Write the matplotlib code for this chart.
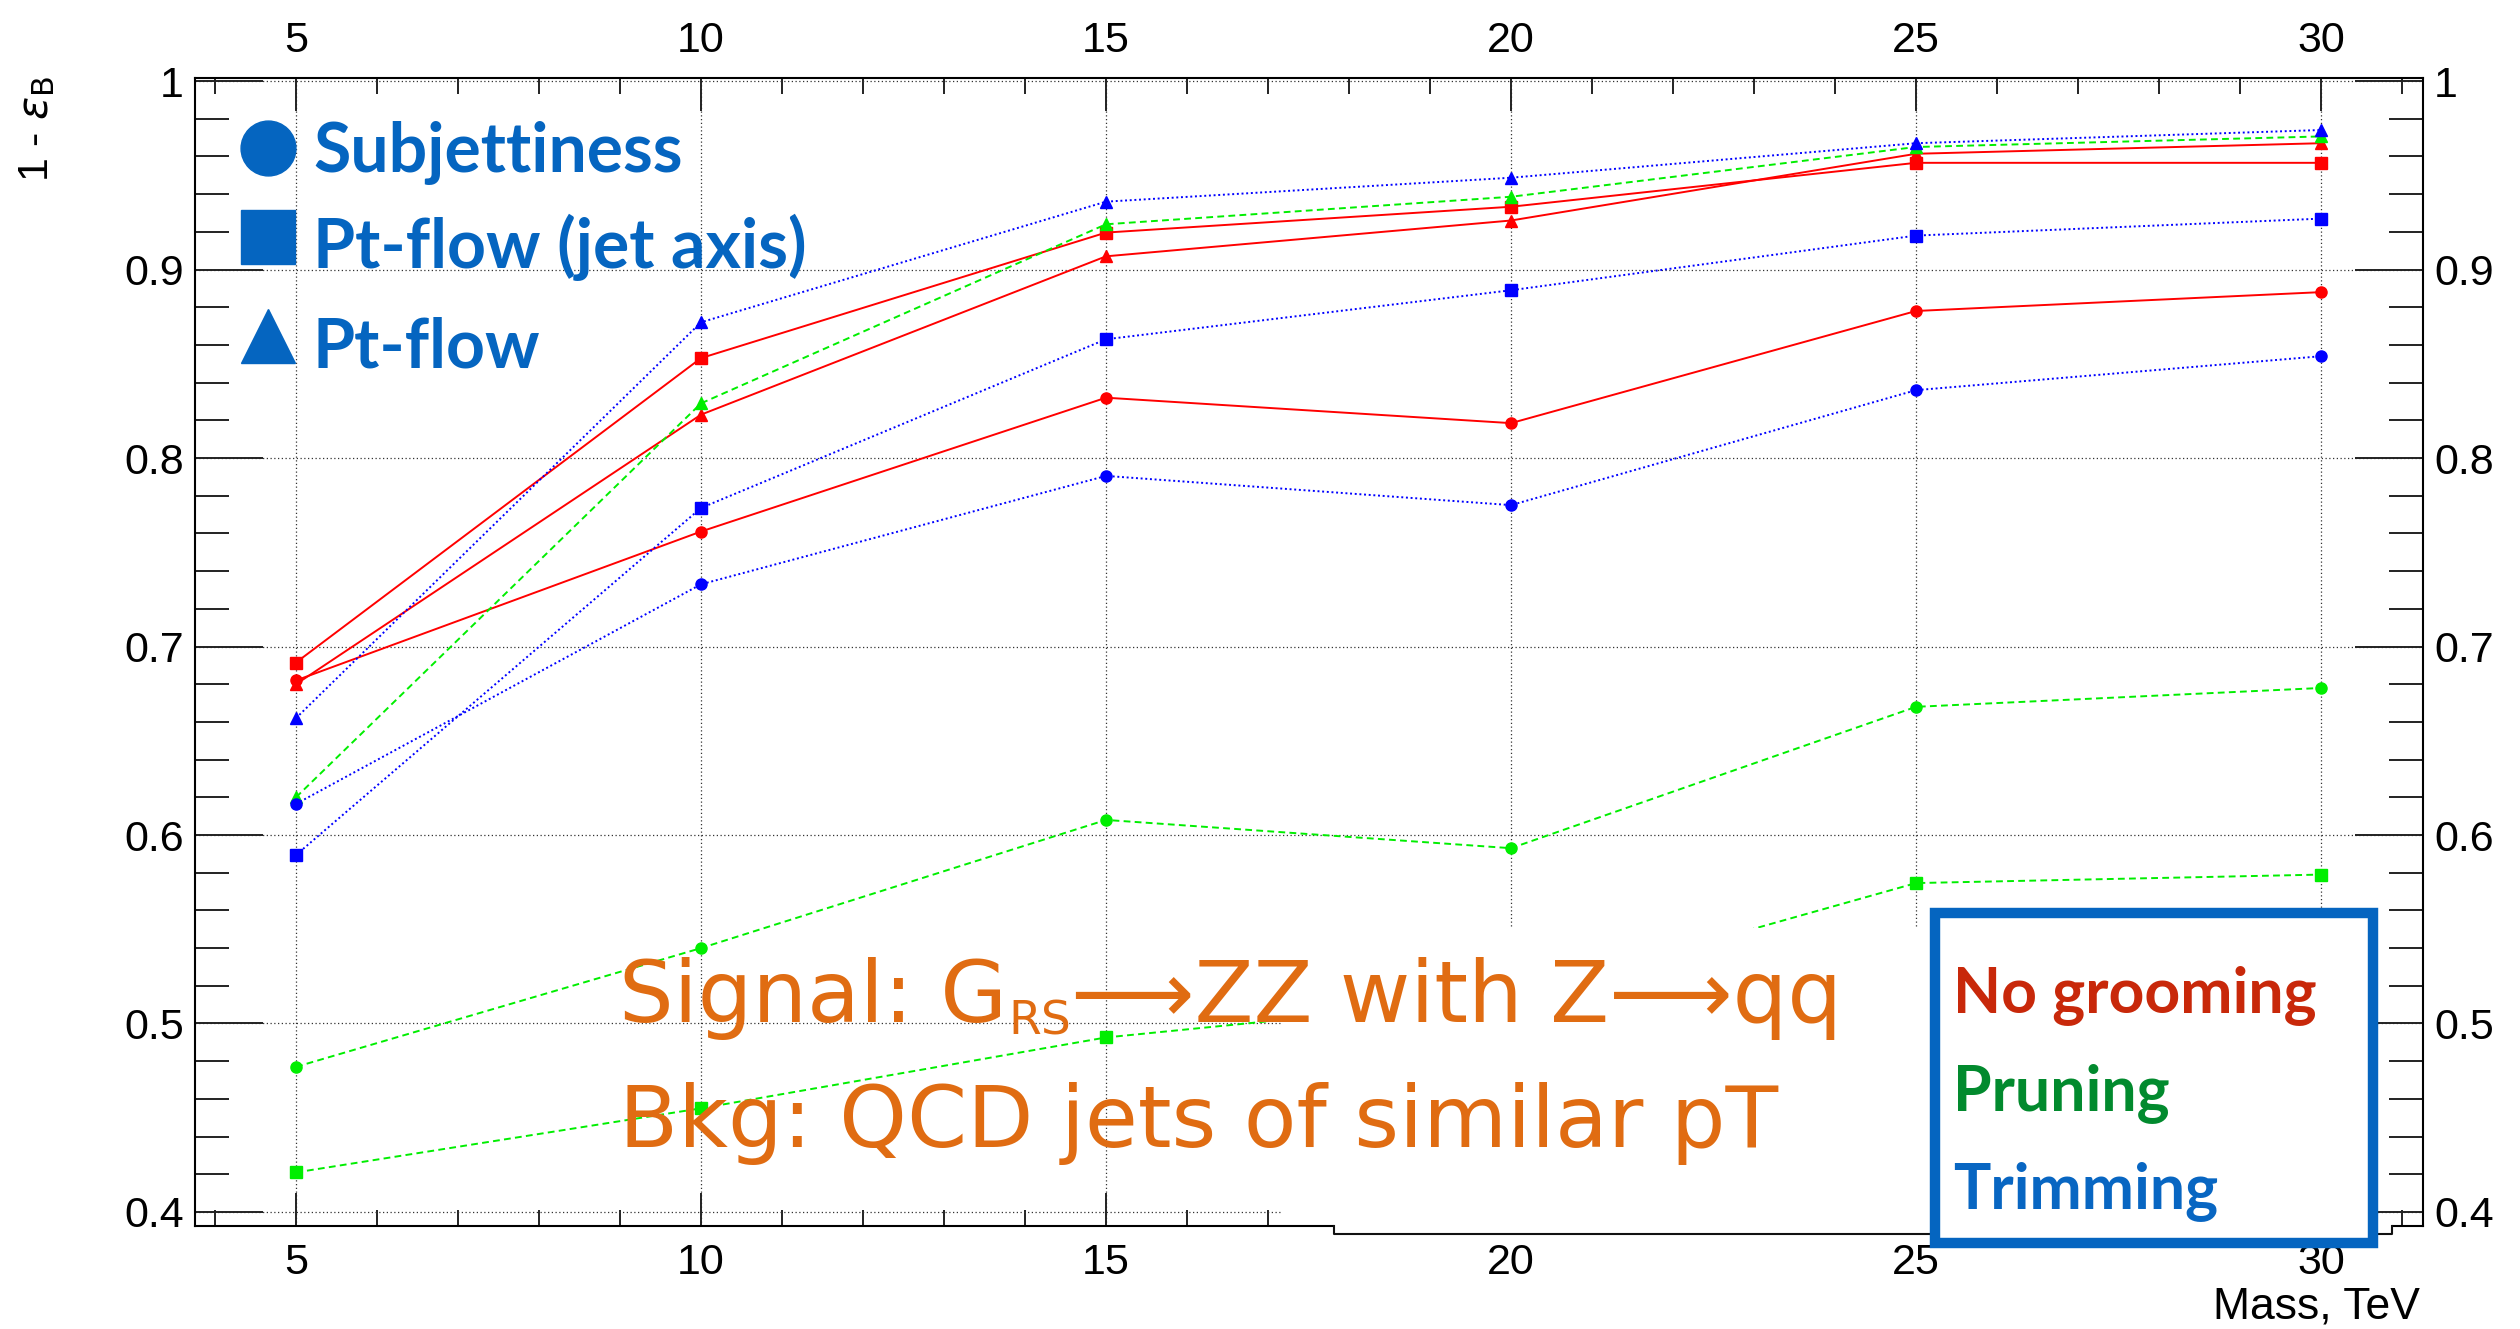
import matplotlib
matplotlib.use('Agg')
import matplotlib.pyplot as plt
from matplotlib.ticker import MultipleLocator, FuncFormatter
from matplotlib.patches import Rectangle
from matplotlib.lines import Line2D

W, H, DPI = 2520, 1329, 100

# Mass points (TeV)
mass = [5, 10, 15, 20, 25, 30]

# 1 - eps_B, no grooming
red_subjettiness = [0.682, 0.761, 0.832, 0.8185, 0.878, 0.888]
red_ptflow_jet = [0.6915, 0.853, 0.9196, 0.9333, 0.9566, 0.9566]
red_ptflow = [0.680, 0.823, 0.907, 0.926, 0.9614, 0.967]

# pruning
green_subjettiness = [0.477, 0.540, 0.608, 0.593, 0.668, 0.678]
green_ptflow_jet = [0.421, 0.455, 0.4926, 0.514, 0.5745, 0.579]
green_ptflow = [0.620, 0.829, 0.924, 0.9386, 0.965, 0.9706]

# trimming
blue_subjettiness = [0.6165, 0.733, 0.7905, 0.775, 0.836, 0.854]
blue_ptflow_jet = [0.5894, 0.7735, 0.863, 0.889, 0.918, 0.927]
blue_ptflow = [0.662, 0.872, 0.936, 0.9487, 0.967, 0.974]

methods = ['Subjettiness', 'Pt-flow (jet axis)', 'Pt-flow']
groomings = ['No grooming', 'Pruning', 'Trimming']

plt.rcParams['font.family'] = ['Liberation Sans', 'DejaVu Sans']
key_font = ['Lato', 'DejaVu Sans']


def fpos(x, y):
    # pixel position (from top-left) -> figure fraction
    return x / W, 1 - y / H


fig = plt.figure(figsize=(W / DPI, H / DPI), dpi=DPI)
ax = fig.add_axes([195 / W, 1 - 1226 / H, (2423 - 195) / W, (1226 - 78) / H])
ax.set_axisbelow(True)

red_ls = '-'
green_ls = (0, (3.5, 2.2))
blue_ls = (0, (1, 1.4))

series = [
    (red_subjettiness, '#ff0000', red_ls, 'o'),
    (red_ptflow_jet, '#ff0000', red_ls, 's'),
    (red_ptflow, '#ff0000', red_ls, '^'),
    (green_subjettiness, '#00ee00', green_ls, 'o'),
    (green_ptflow_jet, '#00ee00', green_ls, 's'),
    (green_ptflow, '#00ee00', green_ls, '^'),
    (blue_subjettiness, '#0000ff', blue_ls, 'o'),
    (blue_ptflow_jet, '#0000ff', blue_ls, 's'),
    (blue_ptflow, '#0000ff', blue_ls, '^'),
]
for vals, col, ls, mk in series:
    ax.plot(mass, vals, color=col, ls=ls, lw=1.4, marker=mk,
            ms=8.5 if mk == '^' else 8, mec=col, mfc=col, zorder=2)

ax.set_xlim(3.753, 31.259)
ax.set_ylim(0.39257, 1.0016)

ax.xaxis.set_major_locator(MultipleLocator(5))
ax.xaxis.set_minor_locator(MultipleLocator(1))
ax.yaxis.set_major_locator(MultipleLocator(0.1))
ax.yaxis.set_minor_locator(MultipleLocator(0.02))
ax.yaxis.set_major_formatter(FuncFormatter(lambda v, p: f'{v:g}'))

ax.grid(which='major', color='#333333', ls=(0, (1, 2)), lw=0.9)
for s in ax.spines.values():
    s.set_linewidth(1.5)

ax.tick_params(axis='both', which='both', direction='in', top=True, right=True,
               labeltop=True, labelright=True, width=1.4, color='#222222',
               labelsize=31)
ax.tick_params(axis='x', which='major', length=24, pad=12)
ax.tick_params(axis='x', which='minor', length=11.5)
ax.tick_params(axis='y', which='major', length=49, pad=8)
ax.tick_params(axis='y', which='minor', length=24.5)

# Axis titles
fig.text(*fpos(37, 76), r'1 - $\epsilon_{\mathrm{B}}$', rotation=90,
         ha='center', va='top', fontsize=31)
fig.text(*fpos(2420, 1286), 'Mass, TeV', ha='right', va='top', fontsize=32)

# White panel behind the annotation text
white_a = Rectangle(fpos(1283, 1222), (1935 - 1283) / W, (1222 - 928) / H,
                    transform=fig.transFigure, facecolor='white', edgecolor='none',
                    clip_on=False, zorder=4)
white_b = Rectangle(fpos(1334, 1232), (2392 - 1334) / W, 12 / H,
                    transform=fig.transFigure, facecolor='white', edgecolor='none',
                    clip_on=False, zorder=4)
ax.add_patch(white_a)
ax.add_patch(white_b)
step_x = [1334, 1334, 2392, 2392]
step_y = [1226, 1234, 1234, 1226]
ax.add_line(Line2D([x / W for x in step_x], [1 - y / H for y in step_y],
                   transform=fig.transFigure, color='#111111', lw=1.5,
                   clip_on=False, zorder=4.5))

# Method markers, top left
blue_key = '#0565c0'
key_markers = ['o', 's', '^']
key_centers = [148, 237, 336]
key_base = [172, 268, 367]
for mk, cy, by, name in zip(key_markers, key_centers, key_base, methods):
    ax.plot(*fpos(268, cy), marker=mk, ms=39.5, color=blue_key, mec=blue_key,
            transform=fig.transFigure, clip_on=False, zorder=6)
    ax.text(*fpos(313, by), name, transform=fig.transFigure, fontsize=49,
            family=key_font, weight='bold', color=blue_key,
            ha='left', va='baseline', zorder=6)

# Grooming key box, bottom right
box = Rectangle(fpos(1935, 1243), (2373 - 1935) / W, (1243 - 913) / H,
                transform=fig.transFigure, facecolor='white', edgecolor=blue_key,
                lw=7.5, clip_on=False, zorder=5)
ax.add_patch(box)
groom_colors = ['#c8280a', '#028a2e', '#0866c2']
groom_base = [1012, 1110, 1208]
for name, col, by in zip(groomings, groom_colors, groom_base):
    ax.text(*fpos(1953, by), name, transform=fig.transFigure, fontsize=45,
            family=key_font, weight='bold', color=col,
            ha='left', va='baseline', zorder=6)

# Signal / background description
orange = '#e06c12'
t1 = ax.text(*fpos(619, 1022), 'Signal: G', transform=fig.transFigure,
             fontsize=62, family='DejaVu Sans', color=orange,
             ha='left', va='baseline', zorder=6)
t2 = ax.annotate('RS', xy=(1, 0), xycoords=t1, xytext=(1, -3),
                 textcoords='offset points', fontsize=34, family='DejaVu Sans',
                 color=orange, ha='left', va='bottom', zorder=6,
                 annotation_clip=False)
ax.annotate('\u27f6ZZ with Z\u27f6qq', xy=(1, 0), xycoords=(t2, t1),
            fontsize=62, family=['DejaVu Sans', 'Noto Sans'], color=orange,
            ha='left', va='bottom', zorder=6, annotation_clip=False)
ax.text(*fpos(619, 1147), 'Bkg: QCD jets of similar pT', transform=fig.transFigure,
        fontsize=62, family='DejaVu Sans', color=orange,
        ha='left', va='baseline', zorder=6)

fig.savefig('out.png', dpi=DPI)
